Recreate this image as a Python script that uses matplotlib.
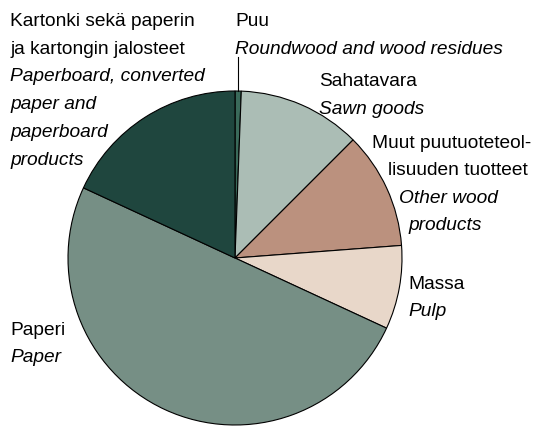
import numpy as np
import matplotlib.pyplot as plt
from matplotlib import font_manager

# osuudet, % (luettu kuvasta), myötäpäivään ylhäältä alkaen
osat = ['Puu', 'Sahatavara', 'Muut', 'Massa', 'Paperi', 'Kartonki']
arvot = [0.6, 11.9, 11.3, 8.1, 50.0, 18.1]
varit = ['#3a6a5a', '#abbdb5', '#bb917e', '#e8d7c9', '#768f85', '#1f463e']

fontti = 'Liberation Sans'
fs = 13.8

W, H = 534, 426
fig = plt.figure(figsize=(W/100, H/100), dpi=100)

# piirakan keskipiste ja säde pikseleinä
cx, cy, r = 235, 258, 167
ax = fig.add_axes([(cx-r)/W, (H-cy-r)/H, 2*r/W, 2*r/H])
wedges, _ = ax.pie(arvot, colors=varit, startangle=90, counterclock=False,
                   wedgeprops=dict(edgecolor='black', linewidth=0.8))
ax.set_xlim(-1, 1)
ax.set_ylim(-1, 1)
ax.set_aspect('equal')
ax.axis('off')

# Puu-viiva
w = wedges[0]
kulma = np.deg2rad((w.theta1 + w.theta2)/2)
xv = np.cos(kulma)
ax.plot([xv, xv], [np.sin(kulma), (cy-57)/r], color='black', lw=0.8, clip_on=False)

def teksti(x, y, s, italic=False):
    fig.text(x/W, 1-y/H, s, fontsize=fs, family=fontti, va='baseline', ha='left',
             style='italic' if italic else 'normal')

teksti(10, 26, 'Kartonki sekä paperin')
teksti(10, 53.5, 'ja kartongin jalosteet')
teksti(10, 81, 'Paperboard, converted', True)
teksti(10, 109, 'paper and', True)
teksti(10, 137, 'paperboard', True)
teksti(10, 165, 'products', True)

teksti(235, 26, 'Puu')
teksti(235, 53.5, 'Roundwood and wood residues', True)

teksti(319, 86, 'Sahatavara')
teksti(319, 113.5, 'Sawn goods', True)

teksti(372, 147.5, 'Muut puutuoteteol-')
teksti(388, 175, 'lisuuden tuotteet')
teksti(399, 203, 'Other wood', True)
teksti(408, 230.5, 'products', True)

teksti(408, 289, 'Massa')
teksti(408, 316.5, 'Pulp', True)

teksti(10.5, 335, 'Paperi')
teksti(10.5, 362, 'Paper', True)

fig.savefig('out.png', dpi=100)
